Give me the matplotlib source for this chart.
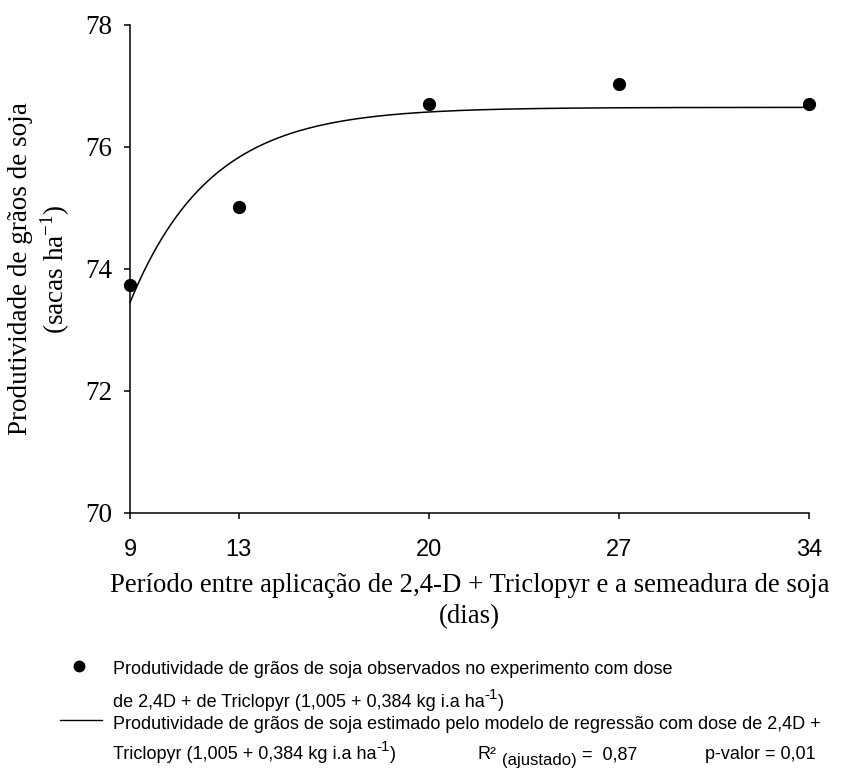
import numpy as np
import matplotlib
matplotlib.use("Agg")
import matplotlib.pyplot as plt

plt.rcParams['mathtext.fontset'] = 'custom'
plt.rcParams['mathtext.rm'] = 'Liberation Serif'
plt.rcParams['mathtext.sf'] = 'Liberation Sans'

# Observed data
dias = [9, 13, 20, 27, 34]
produtividade = [73.74, 75.02, 76.71, 77.03, 76.71]

# Regression model coefficients (y = a - b*exp(-c*(x - 9)))
coef_a = 76.65
coef_b = 3.2
coef_c = 0.34

xticks = [9, 13, 20, 27, 34]
yticks = [70, 72, 74, 76, 78]

W, H = 843, 771
fig = plt.figure(figsize=(W/100, H/100), dpi=100)
L, R, T, B = 130, 809, 25, 513
ax = fig.add_axes([L/W, 1-B/H, (R-L)/W, (B-T)/H])

xs = np.linspace(9, 34, 300)
ys = coef_a - coef_b*np.exp(-coef_c*(xs - 9))
ax.plot(xs, ys, color='black', lw=1.1, clip_on=False)
ax.plot(dias, produtividade, 'o', color='black', ms=8.5, clip_on=False, zorder=5)

ax.set_xlim(9, 34)
ax.set_ylim(70, 78)
ax.set_xticks(xticks)
ax.set_yticks(yticks)
ax.spines['top'].set_visible(False)
ax.spines['right'].set_visible(False)
for s in ['left', 'bottom']:
    ax.spines[s].set_linewidth(1.1)
ax.tick_params(direction='out', length=4.5, width=1.1)
for lab in ax.get_xticklabels():
    lab.set_fontfamily('Liberation Sans')
    lab.set_fontsize(17)
for lab in ax.get_yticklabels():
    lab.set_fontfamily('Liberation Serif')
    lab.set_fontsize(19.5)
ax.tick_params(axis='x', pad=14)
ax.tick_params(axis='y', pad=8)

ax.set_xlabel('Período entre aplicação de 2,4-D + Triclopyr e a semeadura de soja\n(dias)',
              fontfamily='Liberation Serif', fontsize=19.3, linespacing=1.3, labelpad=9)
ax.set_ylabel('Produtividade de grãos de soja\n(sacas ha$^{-1}$)',
              fontfamily='Liberation Serif', fontsize=19.5, linespacing=1.2, labelpad=10)

# Legend (manual, pixel-positioned text runs)
fs = 13
lf = 'Liberation Sans'
renderer = fig.canvas.get_renderer()


def run(x, baseline, parts):
    """parts: list of (text, fontsize, dy_px) drawn left to right."""
    cx = x
    for txt, size, dy in parts:
        t = fig.text(cx/W, 1-(baseline - dy)/H, txt, ha='left', va='baseline',
                     fontsize=size, family=lf)
        bb = t.get_window_extent(renderer)
        cx = bb.x1 if txt.strip() else cx + bb.width
    return cx


fig.add_artist(plt.Line2D([79/W], [1-666/H], marker='o', color='black', ms=7.5,
                          linestyle='none', transform=fig.transFigure))
run(113, 674, [('Produtividade de grãos de soja observados no experimento com dose', fs, 0)])
run(113, 707, [('de 2,4D + de Triclopyr (1,005 + 0,384 kg i.a ha', fs, 0),
               ('-1', 11, 8), (')', fs, 0)])
fig.add_artist(plt.Line2D([60/W, 102/W], [1-720/H, 1-720/H], color='black', lw=1.0,
                          transform=fig.transFigure))
run(113, 729, [('Produtividade de grãos de soja estimado pelo modelo de regressão com dose de 2,4D +', fs, 0)])
run(113, 759, [('Triclopyr (1,005 + 0,384 kg i.a ha', fs, 0),
               ('-1', 11, 8), (')', fs, 0)])
x2 = run(478, 759, [('R²', fs, 0)])
x3 = run(x2 + 5, 759, [('(ajustado)', 12, -6)])
run(x3 + 5, 759, [('=  0,87', fs, 0)])
run(705, 759, [('p-valor = 0,01', fs, 0)])

fig.savefig('out.png', dpi=100)
